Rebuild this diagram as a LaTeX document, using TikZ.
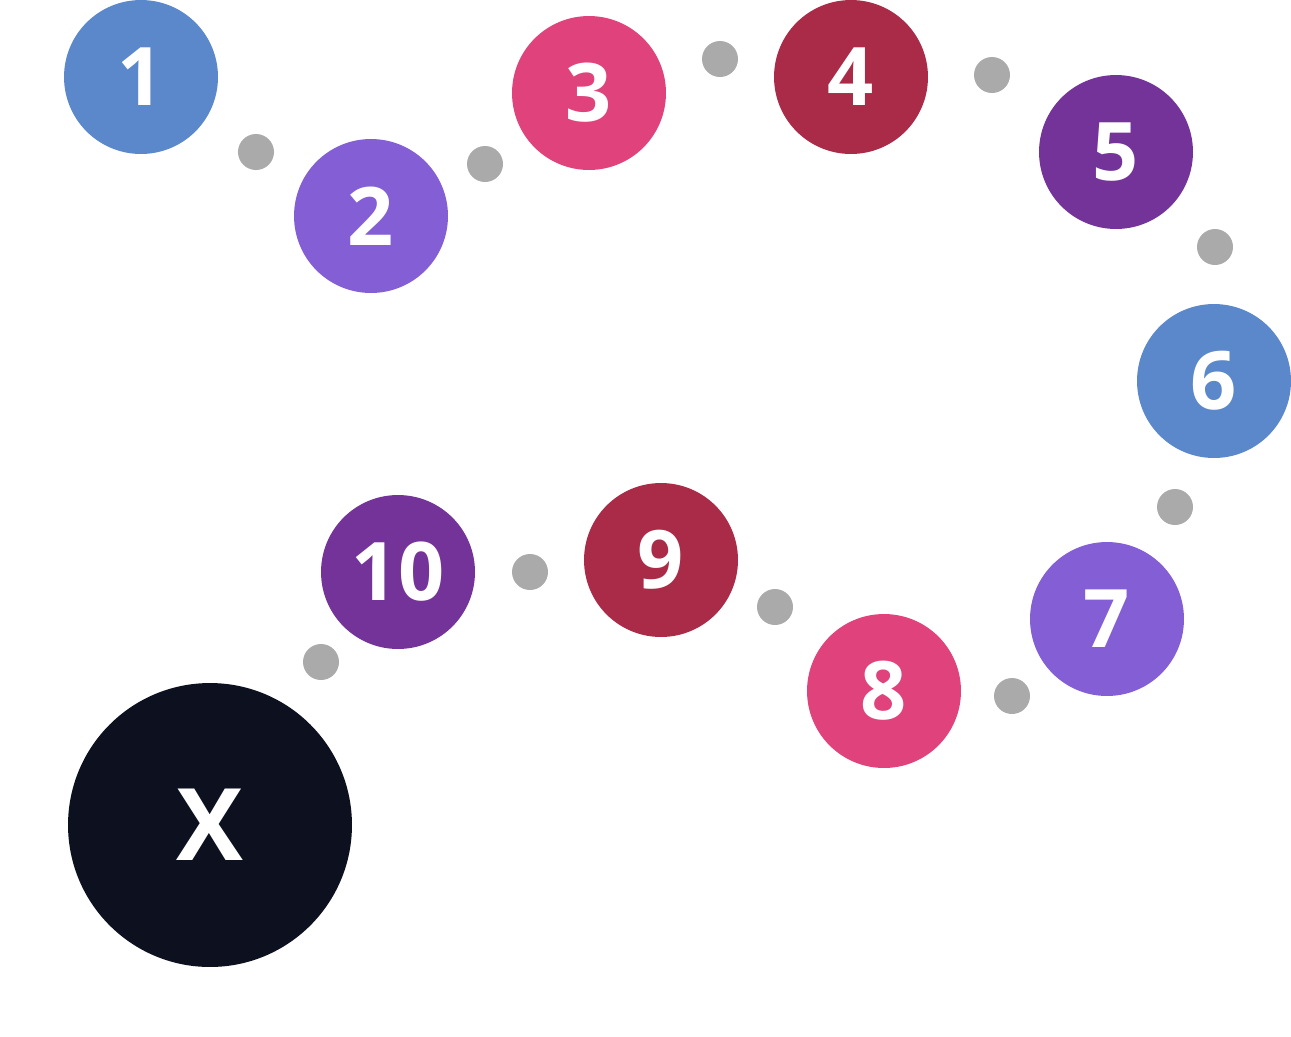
\documentclass[tikz,border=0pt]{standalone}
\usepackage{fontspec}
\setmainfont{Open Sans}
\usepackage{tikz}
\usetikzlibrary{positioning}
\usepackage{xcolor}
\definecolor{stepblue}{HTML}{5B87CB}
\definecolor{steplilac}{HTML}{845ED5}
\definecolor{steppink}{HTML}{E0427B}
\definecolor{stepwine}{HTML}{A92B47}
\definecolor{stepplum}{HTML}{743398}
\definecolor{goalink}{HTML}{0D111F}
\definecolor{dotgray}{HTML}{AAAAAA}

\begin{document}
\begin{tikzpicture}[
  x=0.02cm, y=-0.02cm,
  stepnode/.style={circle, minimum size=3.08cm, inner sep=0pt, text=white, font=\fontsize{46}{46}\selectfont\bfseries},
  goal/.style={circle, fill=goalink, minimum size=5.68cm, inner sep=0pt, text=white, font=\fontsize{57}{57}\selectfont\bfseries},
  gap/.style={circle, fill=dotgray, minimum size=0.72cm, inner sep=0pt}
]
  \useasboundingbox (0,0) rectangle (1291,1036);

  \node[stepnode, fill=stepblue] (s1) at (141,77) {1};
  \node[stepnode, fill=steplilac] (s2) at (371,216) {2};
  \node[stepnode, fill=steppink] (s3) at (589,93) {3};
  \node[stepnode, fill=stepwine] (s4) at (851,77) {4};
  \node[stepnode, fill=stepplum] (s5) at (1116,152) {5};
  \node[stepnode, fill=stepblue] (s6) at (1214,381) {6};
  \node[stepnode, fill=steplilac] (s7) at (1107,619) {7};
  \node[stepnode, fill=steppink] (s8) at (884,691) {8};
  \node[stepnode, fill=stepwine] (s9) at (661,560) {9};
  \node[stepnode, fill=stepplum] (s10) at (398,572) {10};
  \node[goal] (x) at (210,825) {X};

  % dots between the steps
  \node[gap] (g12) at (256,152) {};
  \node[gap] (g23) at (485,164) {};
  \node[gap] (g34) at (720,59) {};
  \node[gap] (g45) at (992,75) {};
  \node[gap] (g56) at (1215,247) {};
  \node[gap] (g67) at (1175,507) {};
  \node[gap] (g78) at (1012,696) {};
  \node[gap] (g89) at (775,607) {};
  \node[gap] (g910) at (530,572) {};
  \node[gap] (g10x) at (321,662) {};
\end{tikzpicture}
\end{document}
